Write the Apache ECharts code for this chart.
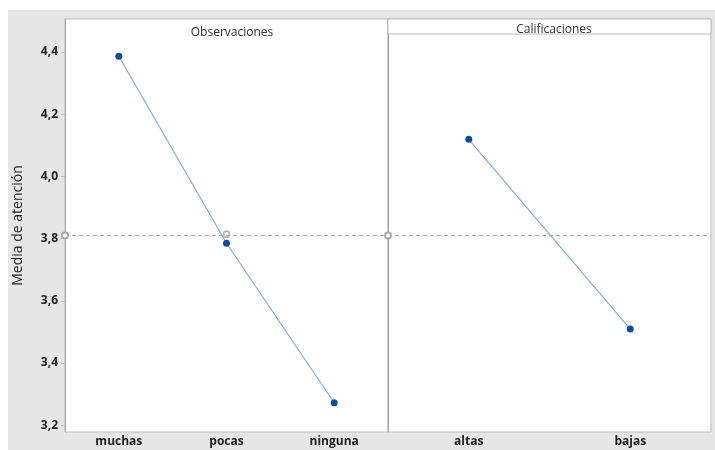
<!DOCTYPE html>
<html><head><meta charset="utf-8">
<script src="https://cdn.jsdelivr.net/npm/echarts@6/dist/echarts.min.js"></script>
<style>html,body{margin:0;padding:0;background:#fff}#c{width:715px;height:450px}</style>
</head><body><div id="c"></div>
<script>
const obsCategories = ['muchas', 'pocas', 'ninguna'];
const obsMeans = [4.386, 3.785, 3.272];
const calCategories = ['altas', 'bajas'];
const calMeans = [4.119, 3.509];
const grandMean = 3.814;
const yTicks = [3.2, 3.4, 3.6, 3.8, 4.0, 4.2, 4.4];
const panelTitles = ['Observaciones', 'Calificaciones'];
const yName = 'Media de atención';

const fmt = v => v.toFixed(1).replace('.', ',');
const lblFont = {fontFamily: 'Open Sans', fontSize: 12, fontWeight: 'bold', color: '#222'};
const chart = echarts.init(document.getElementById('c'));
const yMin = 3.178, yMax = 4.506;
const lineColor = '#7aaee0', dotColor = '#0a4fa6';
chart.setOption({
  animation: false,
  backgroundColor: '#fff',
  graphic: [
    {type: 'rect', z: -10, shape: {x: 8, y: 10, width: 707, height: 440}, style: {fill: '#e6e6e6'}},
    {type: 'rect', z: 1, shape: {x: 388, y: 19, width: 323, height: 15}, style: {fill: '#fff', stroke: '#bdbdbd', lineWidth: 1}}
  ],
  title: [
    {text: panelTitles[0], left: 227, top: 22, textAlign: 'center', textStyle: {fontFamily: 'Open Sans', fontSize: 12, fontWeight: 'normal', color: '#333'}},
    {text: panelTitles[1], left: 549, top: 19, textAlign: 'center', textStyle: {fontFamily: 'Open Sans', fontSize: 12, fontWeight: 'normal', color: '#333'}, z: 5}
  ],
  grid: [
    {left: 65, right: 327, top: 19, bottom: 18, show: true, backgroundColor: '#fff', borderColor: '#bdbdbd', borderWidth: 1},
    {left: 388, right: 4, top: 19, bottom: 18, show: true, backgroundColor: '#fff', borderColor: '#bdbdbd', borderWidth: 1}
  ],
  xAxis: [
    {type: 'category', gridIndex: 0, data: obsCategories, boundaryGap: true,
     axisLine: {show: false}, axisTick: {alignWithLabel: true, length: 3, lineStyle: {color: '#bbb'}},
     axisLabel: Object.assign({margin: 4}, lblFont)},
    {type: 'category', gridIndex: 1, data: calCategories, boundaryGap: true,
     axisLine: {show: false}, axisTick: {alignWithLabel: true, length: 3, lineStyle: {color: '#bbb'}},
     axisLabel: Object.assign({margin: 4}, lblFont)}
  ],
  yAxis: [
    {type: 'value', gridIndex: 0, min: yMin, max: yMax, name: yName, nameLocation: 'middle', nameGap: 40,
     nameTextStyle: {fontFamily: 'Open Sans', fontSize: 14, color: '#222'},
     splitLine: {show: false}, axisLine: {show: true, lineStyle: {color: '#a8a8a8'}},
     axisTick: {show: true, length: 4, customValues: yTicks, lineStyle: {color: '#bbb'}},
     axisLabel: Object.assign({margin: 7, customValues: yTicks, formatter: fmt}, lblFont)},
    {type: 'value', gridIndex: 1, min: yMin, max: yMax, splitLine: {show: false},
     axisLine: {show: true, lineStyle: {color: '#a0a0a0'}}, axisTick: {show: false}, axisLabel: {show: false}}
  ],
  series: [
    {type: 'scatter', xAxisIndex: 0, yAxisIndex: 0, data: [[obsCategories[1], grandMean]], symbol: 'emptyCircle', symbolSize: 6,
     itemStyle: {color: '#aaa', borderColor: '#aaa', borderWidth: 1}, z: 3},
    {type: 'line', xAxisIndex: 0, yAxisIndex: 0, data: obsMeans, symbol: 'circle', symbolSize: 7, z: 4,
     lineStyle: {color: lineColor, width: 1.2}, itemStyle: {color: dotColor},
     markLine: {silent: true, symbol: ['emptyCircle', 'none'], symbolSize: 6, label: {show: false},
       lineStyle: {color: '#aaa', type: [4, 3], width: 1}, data: [{yAxis: grandMean}]}},
    {type: 'line', xAxisIndex: 1, yAxisIndex: 1, data: calMeans, symbol: 'circle', symbolSize: 7,
     lineStyle: {color: lineColor, width: 1.2}, itemStyle: {color: dotColor},
     markLine: {silent: true, symbol: ['emptyCircle', 'none'], symbolSize: 6, label: {show: false},
       lineStyle: {color: '#aaa', type: [4, 3], width: 1}, data: [{yAxis: grandMean}]}}
  ]
});
</script></body></html>
